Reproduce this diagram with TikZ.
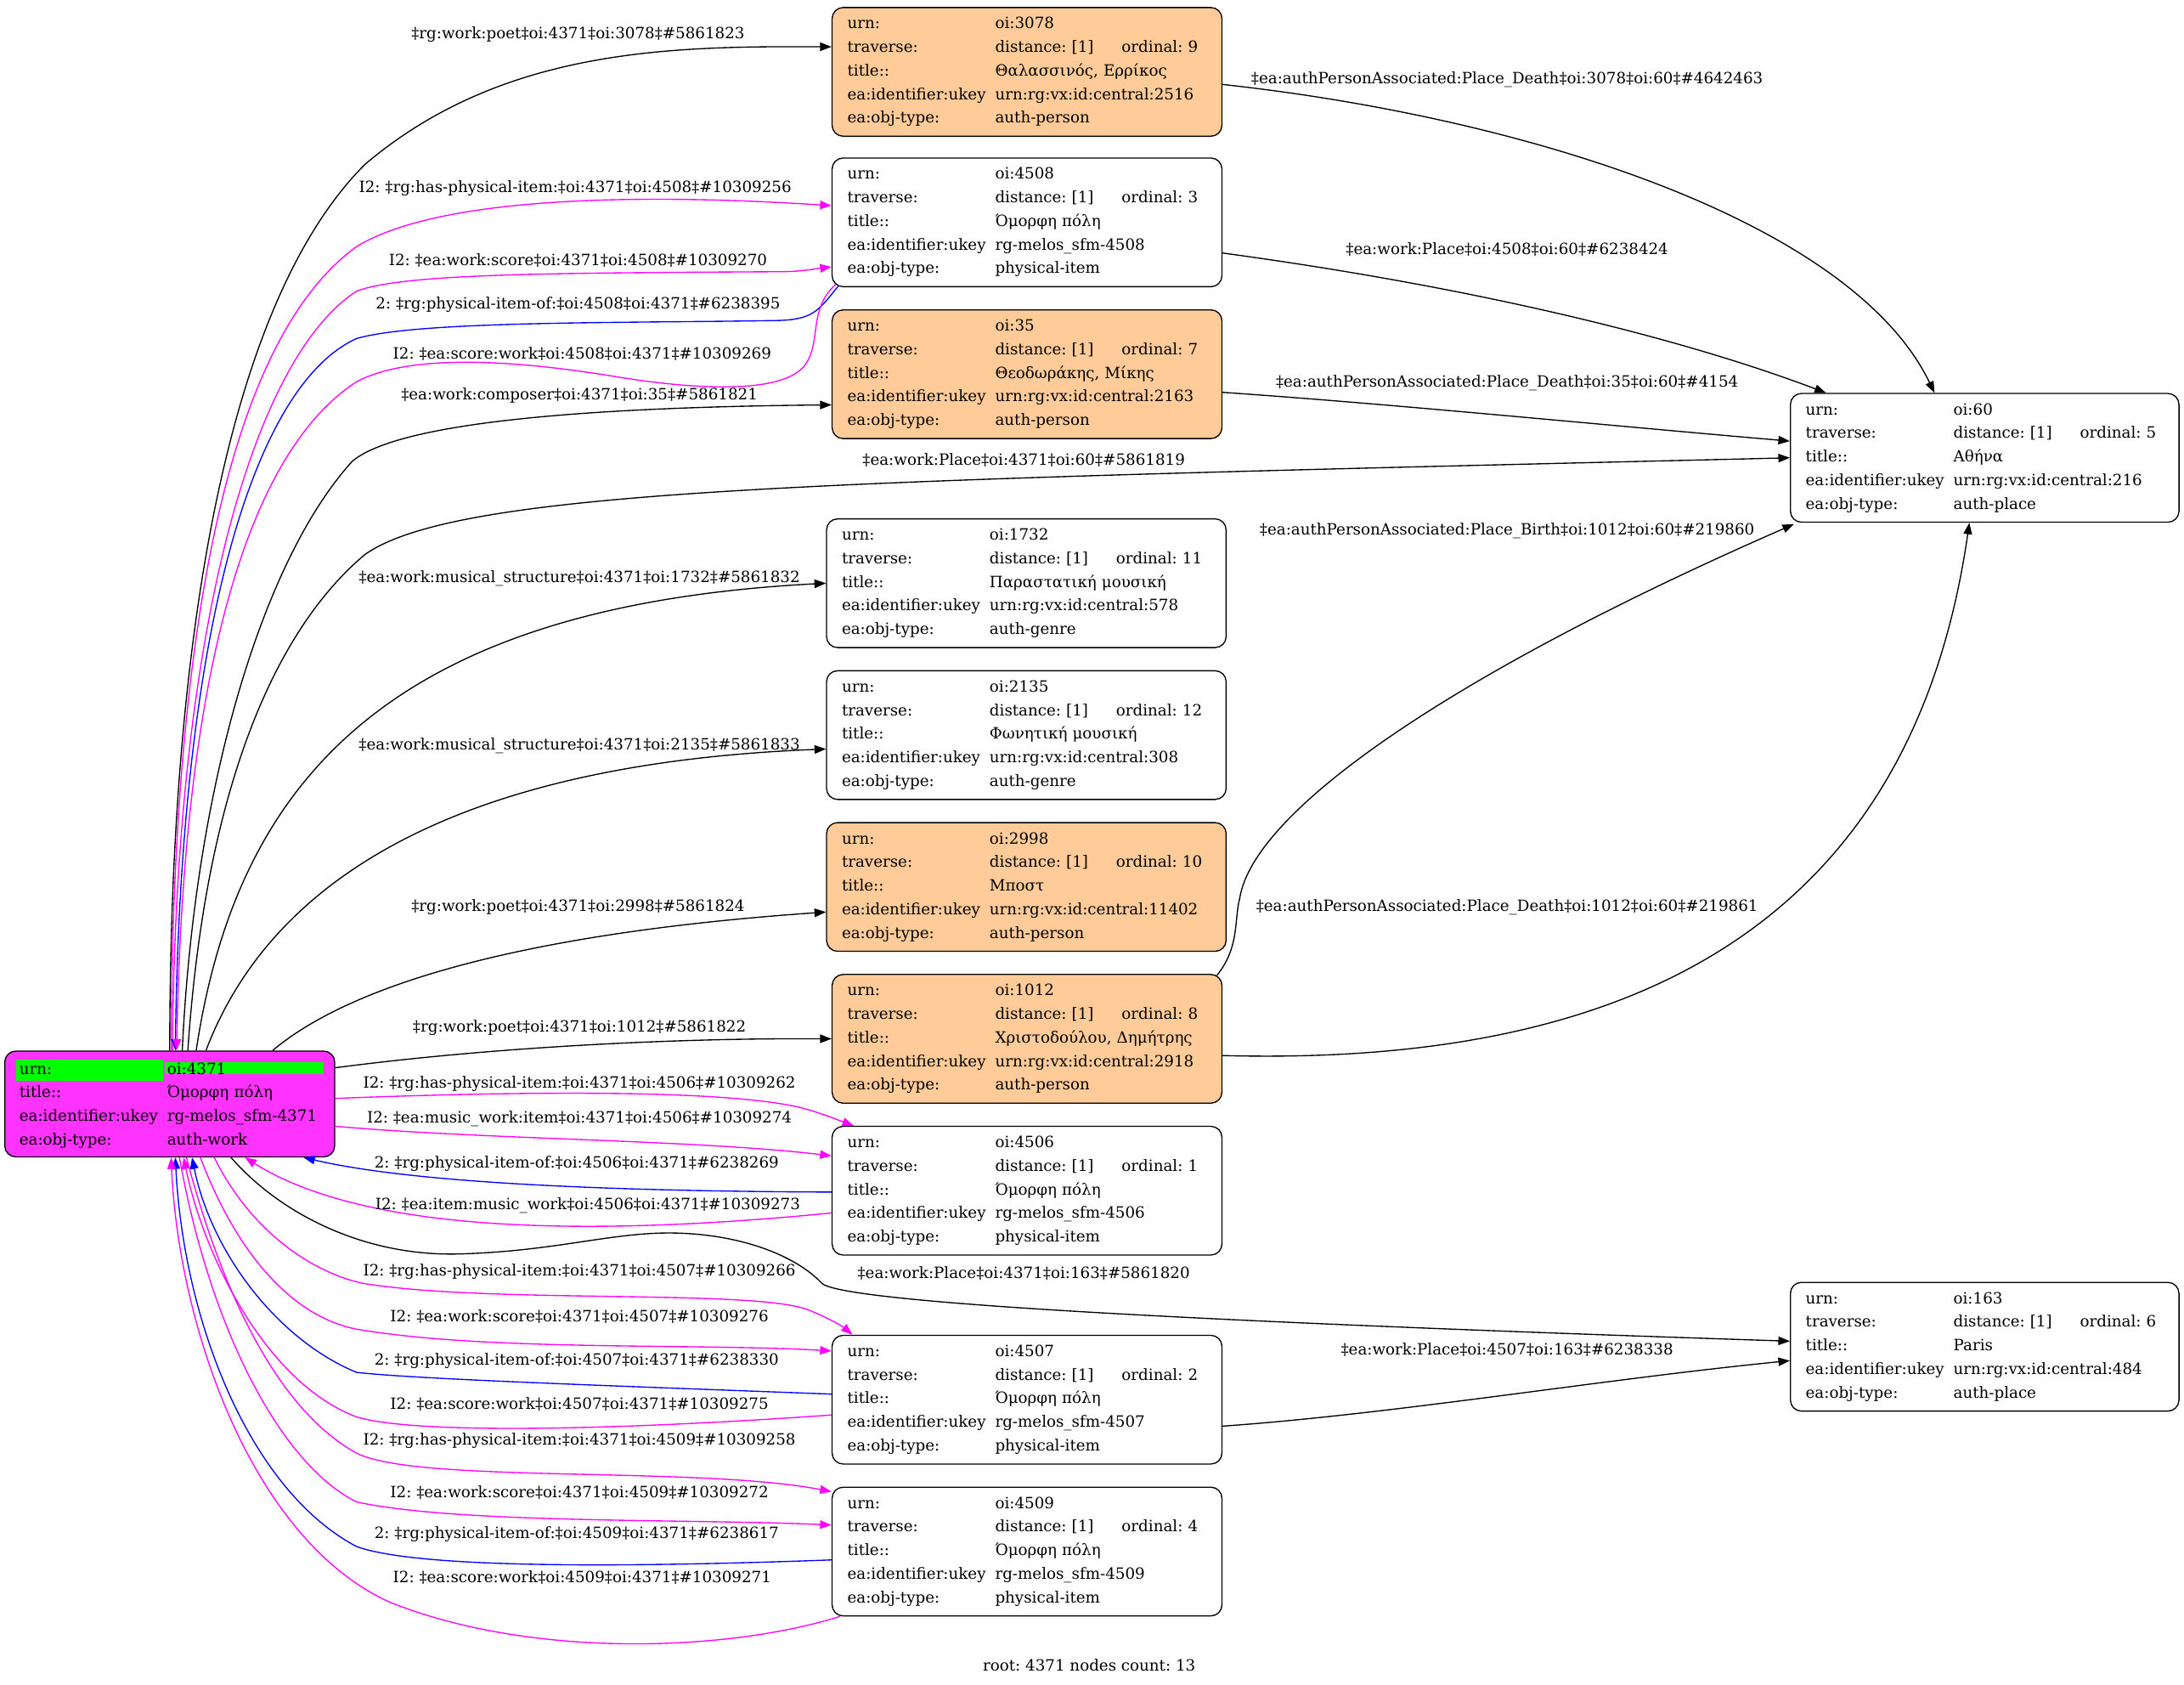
\documentclass[tikz,border=0pt]{standalone}
\usepackage{fontspec}
\setmainfont{DejaVu Serif}
\usetikzlibrary{arrows.meta,calc}

\definecolor{personc}{HTML}{FFCC99}
\definecolor{workc}{HTML}{FF33FF}
\definecolor{urnc}{HTML}{00FF00}
\definecolor{itemc}{RGB}{255,0,255}
\definecolor{backc}{RGB}{0,0,255}

% one row of a record: key column, then value
\newcommand{\fld}[2]{\makebox[34.8mm][l]{#1}#2}
\newcommand{\recrows}[5]{\fld{urn:}{#1}\\\fld{traverse:}{\makebox[29.8mm][l]{distance: [1]}ordinal: #2}\\\fld{title::}{#3}\\\fld{ea:identifier:ukey}{#4}\\\fld{ea:obj-type:}{#5}}

\tikzset{
  rec/.style={draw, line width=0.27mm, rounded corners=2.6mm, anchor=north west,
    inner xsep=3.6mm, inner ysep=0pt, minimum height=30.3mm, text width=84.6mm,
    align=left, font=\fontsize{10.4}{15.8}\selectfont},
  lbl/.style={text=black, font=\fontsize{10.4}{12}\selectfont, inner sep=0pt},
  link/.style={line width=0.27mm, -{Triangle[length=2.7mm,width=2mm]}},
  mlink/.style={link, itemc},
  blink/.style={link, backc}
}

\begin{document}
\frenchspacing
\begin{tikzpicture}[x=0.328mm, y=-0.328mm]
    \useasboundingbox (0,0) rectangle (1568,1209);

    % records
    \node[rec, fill=workc, text width=72.4mm, inner xsep=2.65mm, minimum height=24.9mm] (root) at (3,754) {%
        {\setlength{\fboxsep}{0pt}\colorbox{urnc}{\makebox[34.6mm][l]{\rule[-1.6mm]{0pt}{5mm}\hspace{0.8mm}urn:}}\hspace{0.4mm}\colorbox{urnc}{\makebox[37.4mm][l]{\hspace{0.6mm}oi:4371}}}\\
        \hspace{0.8mm}\fld{title::}{Όμορφη πόλη}\\
        \hspace{0.8mm}\fld{ea:identifier:ukey}{rg-melos\_sfm-4371}\\
        \hspace{0.8mm}\fld{ea:obj-type:}{auth-work}};
    \node[rec, fill=personc] (n3078) at (597,5) {\recrows{oi:3078}{9}{Θαλασσινός, Ερρίκος}{urn:rg:vx:id:central:2516}{auth-person}};
    \node[rec] (n4508) at (597,113) {\recrows{oi:4508}{3}{Όμορφη πόλη}{rg-melos\_sfm-4508}{physical-item}};
    \node[rec, fill=personc] (n35) at (597,222) {\recrows{oi:35}{7}{Θεοδωράκης, Μίκης}{urn:rg:vx:id:central:2163}{auth-person}};
    \node[rec, text width=86.9mm] (n1732) at (593,372) {\recrows{oi:1732}{11}{Παραστατική μουσική}{urn:rg:vx:id:central:578}{auth-genre}};
    \node[rec, text width=86.9mm] (n2135) at (593,481) {\recrows{oi:2135}{12}{Φωνητική μουσική}{urn:rg:vx:id:central:308}{auth-genre}};
    \node[rec, fill=personc, text width=86.9mm] (n2998) at (593,590) {\recrows{oi:2998}{10}{Μποστ}{urn:rg:vx:id:central:11402}{auth-person}};
    \node[rec, fill=personc] (n1012) at (597,699) {\recrows{oi:1012}{8}{Χριστοδούλου, Δημήτρης}{urn:rg:vx:id:central:2918}{auth-person}};
    \node[rec] (n4506) at (597,808) {\recrows{oi:4506}{1}{Όμορφη πόλη}{rg-melos\_sfm-4506}{physical-item}};
    \node[rec] (n4507) at (597,958) {\recrows{oi:4507}{2}{Όμορφη πόλη}{rg-melos\_sfm-4507}{physical-item}};
    \node[rec] (n4509) at (597,1067) {\recrows{oi:4509}{4}{Όμορφη πόλη}{rg-melos\_sfm-4509}{physical-item}};
    \node[rec, text width=84.3mm] (n60) at (1285,282) {\recrows{oi:60}{5}{Αθήνα}{urn:rg:vx:id:central:216}{auth-place}};
    \node[rec, text width=84.3mm] (n163) at (1285,920) {\recrows{oi:163}{6}{Paris}{urn:rg:vx:id:central:484}{auth-place}};

    % edges above the root
    \draw[link] (root.north) .. controls (122,450) and (165,215) .. (262,118) .. controls (360,35) and (480,33) .. ($(n3078.west)+(0,-18)$)
        node[lbl] at (415,25) {‡rg:work:poet‡oi:4371‡oi:3078‡\#5861823};
    \draw[mlink] ($(root.north)+(1,0)$) .. controls (124,420) and (172,238) .. (256,177) .. controls (320,138) and (480,140) .. ($(n4508.west)+(0,-12)$)
        node[lbl] at (413,135) {I2: ‡rg:has-physical-item:‡oi:4371‡oi:4508‡\#10309256};
    \draw[mlink] ($(root.north)+(2,0)$) .. controls (126,440) and (185,255) .. (256,209) .. controls (290,196) and (400,196) .. (560,195) .. controls (575,195) and (585,193) .. ($(n4508.west)+(0,32)$)
        node[lbl] at (415,187) {I2: ‡ea:work:score‡oi:4371‡oi:4508‡\#10309270};
    \draw[blink] ($(n4508.south west)+(5,-1)$) .. controls (588,222) and (585,229) .. (560,230) .. controls (450,232) and (300,230) .. (256,243) .. controls (185,275) and (130,440) .. ($(root.north)+(4,0)$)
        node[lbl] at (415,219) {2: ‡rg:physical-item-of:‡oi:4508‡oi:4371‡\#6238395};
    \draw[mlink] ($(n4508.south west)+(3,-2)$) .. controls (580,222) and (590,245) .. (578,262) .. controls (562,283) and (500,280) .. (440,270) .. controls (360,257) and (292,255) .. (256,274) .. controls (185,320) and (132,460) .. ($(root.north)+(5,0)$)
        node[lbl] at (418,254) {I2: ‡ea:score:work‡oi:4508‡oi:4371‡\#10309269};
    \draw[link] ($(root.north)+(9,0)$) .. controls (140,560) and (190,400) .. (253,331) .. controls (290,300) and (450,292) .. ($(n35.west)+(0,22)$)
        node[lbl] at (416,284) {‡ea:work:composer‡oi:4371‡oi:35‡\#5861821};
    \draw[link] ($(root.north)+(13,0)$) .. controls (148,560) and (200,450) .. (262,398) .. controls (330,350) and (600,345) .. (n60.west)
        node[lbl] at (735,330) {‡ea:work:Place‡oi:4371‡oi:60‡\#5861819};
    \draw[link] ($(root.north)+(19,0)$) .. controls (170,560) and (280,435) .. (n1732.west)
        node[lbl] at (416,415) {‡ea:work:musical\_structure‡oi:4371‡oi:1732‡\#5861832};
    \draw[link] ($(root.north)+(26,0)$) .. controls (195,630) and (330,548) .. ($(n2135.west)+(0,10)$)
        node[lbl] at (416,535) {‡ea:work:musical\_structure‡oi:4371‡oi:2135‡\#5861833};
    \draw[link] ($(root.north east)+(-45,0)$) .. controls (260,700) and (400,668) .. ($(n2998.west)+(0,18)$)
        node[lbl] at (415,651) {‡rg:work:poet‡oi:4371‡oi:2998‡\#5861824};

    % edges on the right of the root
    \draw[link] ($(root.east)+(0,-26)$) .. controls (350,752) and (480,745) .. (n1012.west)
        node[lbl] at (416,738) {‡rg:work:poet‡oi:4371‡oi:1012‡\#5861822};
    \draw[mlink] ($(root.east)+(0,-4)$) .. controls (380,783) and (520,782) .. (575,795) .. controls (590,799) and (602,804) .. ($(n4506.north west)+(16,0)$)
        node[lbl] at (416,778) {I2: ‡rg:has-physical-item:‡oi:4371‡oi:4506‡\#10309262};
    \draw[mlink] ($(root.east)+(0,16)$) .. controls (350,818) and (500,818) .. ($(n4506.west)+(0,-25)$)
        node[lbl] at (416,803) {I2: ‡ea:music\_work:item‡oi:4371‡oi:4506‡\#10309274};
    \draw[blink] ($(n4506.west)+(0,1)$) .. controls (450,855) and (300,850) .. ($(root.south)+(96,0)$)
        node[lbl] at (414,835) {2: ‡rg:physical-item-of:‡oi:4506‡oi:4371‡\#6238269};
    \draw[mlink] ($(n4506.west)+(0,16)$) .. controls (450,885) and (270,890) .. ($(root.south)+(54,0)$)
        node[lbl] at (422,865) {I2: ‡ea:item:music\_work‡oi:4506‡oi:4371‡\#10309273};

    % edges below the root
    \draw[link] ($(root.south)+(44,0)$) .. controls (200,870) and (260,902) .. (330,900) .. controls (400,898) and (440,884) .. (485,885) .. controls (530,886) and (570,900) .. (590,921) .. controls (605,936) and (900,950) .. ($(n163.west)+(0,-4)$)
        node[lbl] at (735,914) {‡ea:work:Place‡oi:4371‡oi:163‡\#5861820};
    \draw[mlink] ($(root.south)+(32,0)$) .. controls (178,880) and (220,912) .. (260,921) .. controls (350,936) and (540,925) .. (580,940) .. controls (595,946) and (605,952) .. ($(n4507.north west)+(15,0)$)
        node[lbl] at (416,913) {I2: ‡rg:has-physical-item:‡oi:4371‡oi:4507‡\#10309266};
    \draw[mlink] ($(root.south)+(22,0)$) .. controls (170,900) and (210,945) .. (256,954) .. controls (350,970) and (500,964) .. ($(n4507.west)+(0,-35)$)
        node[lbl] at (416,945) {I2: ‡ea:work:score‡oi:4371‡oi:4507‡\#10309276};
    \draw[blink] ($(n4507.west)+(0,-4)$) .. controls (450,995) and (300,990) .. (256,985) .. controls (200,962) and (152,900) .. ($(root.south)+(16,0)$)
        node[lbl] at (414,977) {2: ‡rg:physical-item-of:‡oi:4507‡oi:4371‡\#6238330};
    \draw[mlink] ($(n4507.west)+(0,11)$) .. controls (450,1026) and (300,1030) .. (256,1017) .. controls (190,992) and (146,900) .. ($(root.south)+(10,0)$)
        node[lbl] at (416,1008) {I2: ‡ea:score:work‡oi:4507‡oi:4371‡\#10309275};
    \draw[mlink] ($(root.south)+(12,0)$) .. controls (160,930) and (200,1012) .. (256,1043) .. controls (300,1065) and (500,1052) .. ($(n4509.west)+(0,-43)$)
        node[lbl] at (416,1034) {I2: ‡rg:has-physical-item:‡oi:4371‡oi:4509‡\#10309258};
    \draw[mlink] ($(root.south)+(7,0)$) .. controls (150,950) and (200,1050) .. (256,1078) .. controls (330,1094) and (500,1090) .. ($(n4509.west)+(0,-19)$)
        node[lbl] at (416,1071) {I2: ‡ea:work:score‡oi:4371‡oi:4509‡\#10309272};
    \draw[blink] ($(n4509.west)+(0,6)$) .. controls (450,1125) and (300,1126) .. (256,1110) .. controls (180,1070) and (132,950) .. ($(root.south)+(4,0)$)
        node[lbl] at (414,1101) {2: ‡rg:physical-item-of:‡oi:4509‡oi:4371‡\#6238617};
    \draw[mlink] ($(n4509.south west)+(6,0)$) .. controls (520,1186) and (380,1190) .. (280,1150) .. controls (180,1105) and (128,950) .. ($(root.south)+(1,0)$)
        node[lbl] at (418,1132) {I2: ‡ea:score:work‡oi:4509‡oi:4371‡\#10309271};

    % edges to the places
    \draw[link] ($(n3078.east)+(0,9)$) .. controls (1100,85) and (1330,160) .. ($(n60.north)+(-36,0)$)
        node[lbl] at (1082,57) {‡ea:authPersonAssociated:Place\_Death‡oi:3078‡oi:60‡\#4642463};
    \draw[link] ($(n4508.east)+(0,22)$) .. controls (1050,205) and (1200,240) .. ($(n60.north west)+(26,0)$)
        node[lbl] at (1082,179) {‡ea:work:Place‡oi:4508‡oi:60‡\#6238424};
    \draw[link] ($(n35.east)+(0,13)$) .. controls (1000,290) and (1150,305) .. ($(n60.west)+(0,-12)$)
        node[lbl] at (1082,275) {‡ea:authPersonAssociated:Place\_Death‡oi:35‡oi:60‡\#4154};
    \draw[link] ($(n1012.north east)+(-4,1)$) .. controls (890,680) and (886,660) .. (890,645) .. controls (900,580) and (1050,480) .. ($(n60.south west)+(3,1)$)
        node[lbl] at (1082,381) {‡ea:authPersonAssociated:Place\_Birth‡oi:1012‡oi:60‡\#219860};
    \draw[link] ($(n1012.east)+(0,12)$) .. controls (1150,765) and (1370,680) .. ($(n60.south)+(-11,0)$)
        node[lbl] at (1082,651) {‡ea:authPersonAssociated:Place\_Death‡oi:1012‡oi:60‡\#219861};
    \draw[link] ($(n4507.east)+(0,19)$) .. controls (1000,1015) and (1150,990) .. ($(n163.west)+(0,10)$)
        node[lbl] at (1082,969) {‡ea:work:Place‡oi:4507‡oi:163‡\#6238338};

    \node[lbl] (footer) at (782,1195) {root: 4371 nodes count: 13};
\end{tikzpicture}
\end{document}
